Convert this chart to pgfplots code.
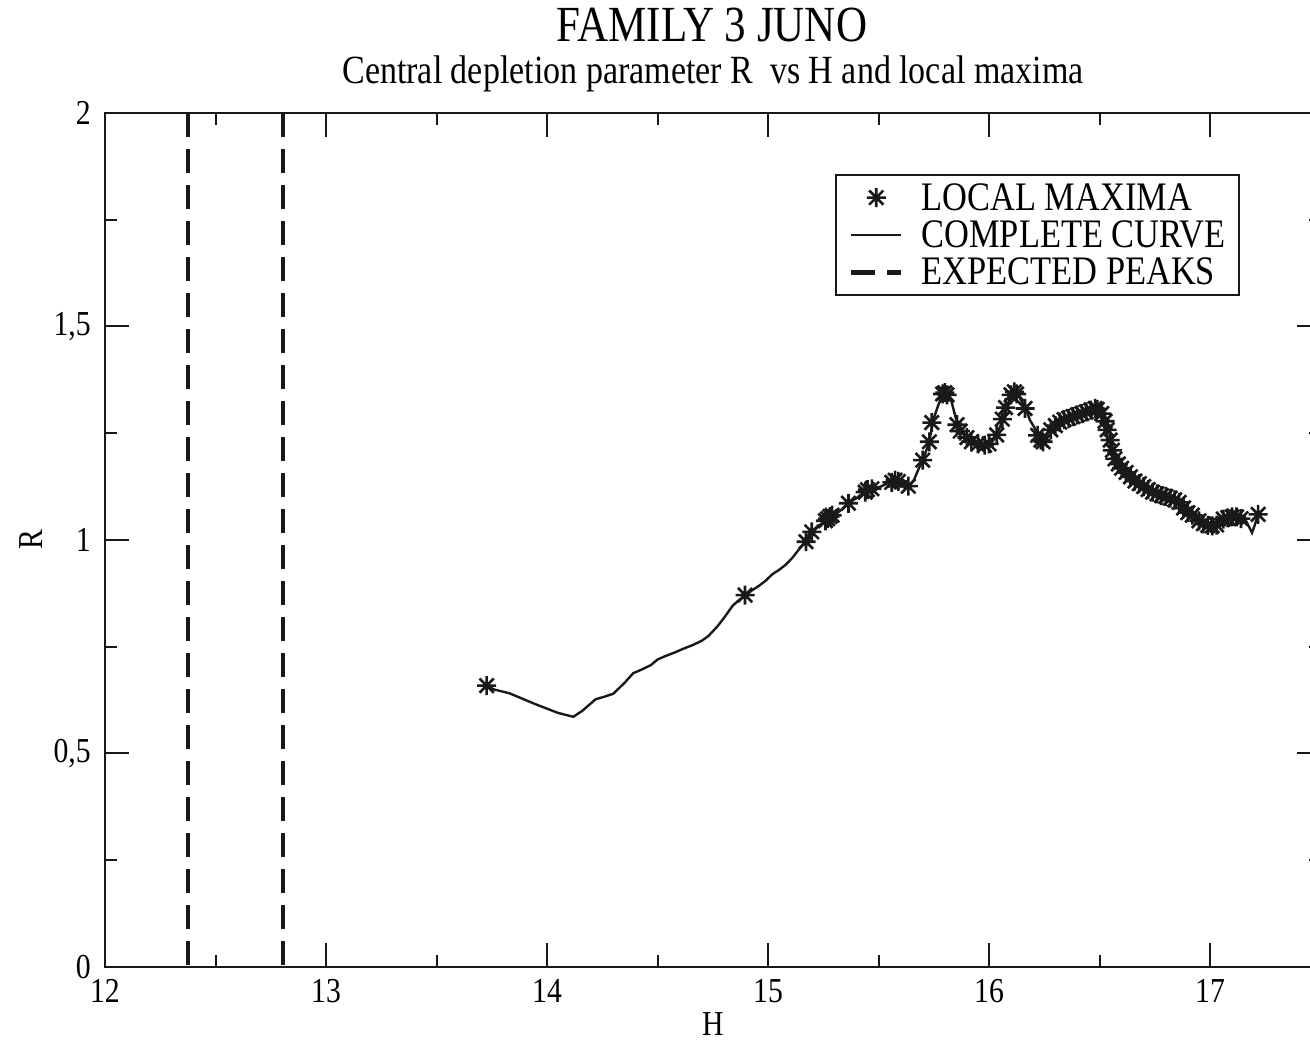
\documentclass[border=0pt]{standalone}
\usepackage{fontspec}
\setmainfont[FakeStretch=0.85]{Liberation Serif}
\usepackage{pgfplots}
\pgfplotsset{compat=1.18}

% eight-armed star: a plus and a cross drawn together
\pgfdeclareplotmark{gstar}{%
  \pgfpathmoveto{\pgfqpoint{-\pgfplotmarksize}{0pt}}%
  \pgfpathlineto{\pgfqpoint{\pgfplotmarksize}{0pt}}%
  \pgfpathmoveto{\pgfqpoint{0pt}{-\pgfplotmarksize}}%
  \pgfpathlineto{\pgfqpoint{0pt}{\pgfplotmarksize}}%
  \pgfpathmoveto{\pgfqpoint{-0.75\pgfplotmarksize}{-0.75\pgfplotmarksize}}%
  \pgfpathlineto{\pgfqpoint{0.75\pgfplotmarksize}{0.75\pgfplotmarksize}}%
  \pgfpathmoveto{\pgfqpoint{-0.75\pgfplotmarksize}{0.75\pgfplotmarksize}}%
  \pgfpathlineto{\pgfqpoint{0.75\pgfplotmarksize}{-0.75\pgfplotmarksize}}%
  \pgfusepathqstroke}

\pgfplotsset{
  starlegend/.style={legend image code/.code={\draw[##1] plot coordinates {(25pt,0pt)};}},
  linelegend/.style={legend image code/.code={\draw[##1] (0pt,0pt) -- (50pt,0pt);}},
}

% R(H) curve of the family
\pgfplotstableread{
H R
13.727 0.659
13.76 0.650
13.83 0.641
13.95 0.615
14.05 0.595
14.119 0.586
14.16 0.600
14.22 0.627
14.26 0.633
14.30 0.640
14.35 0.665
14.39 0.688
14.43 0.697
14.47 0.707
14.50 0.720
14.53 0.727
14.58 0.737
14.62 0.746
14.66 0.754
14.70 0.764
14.73 0.775
14.77 0.797
14.80 0.817
14.84 0.846
14.87 0.860
14.90 0.871
14.93 0.883
14.96 0.893
14.99 0.905
15.02 0.920
15.05 0.930
15.08 0.942
15.11 0.958
15.14 0.978
15.17 0.996
15.20 1.018
15.23 1.033
15.27 1.051
15.30 1.058
15.33 1.070
15.36 1.085
15.40 1.098
15.43 1.110
15.45 1.117
15.48 1.122
15.51 1.125
15.55 1.135
15.58 1.140
15.61 1.132
15.635 1.126
15.66 1.140
15.68 1.165
15.70 1.187
15.72 1.215
15.73 1.230
15.74 1.260
15.75 1.285
15.77 1.315
15.79 1.340
15.81 1.345
15.83 1.325
15.85 1.285
15.87 1.260
15.90 1.243
15.93 1.230
15.96 1.222
15.99 1.220
16.02 1.234
16.05 1.265
16.065 1.285
16.08 1.312
16.10 1.338
16.118 1.347
16.14 1.332
16.163 1.312
16.185 1.281
16.216 1.254
16.238 1.234
16.25 1.238
16.276 1.262
16.321 1.277
16.381 1.289
16.427 1.297
16.472 1.308
16.502 1.300
16.517 1.290
16.532 1.273
16.548 1.250
16.555 1.218
16.562 1.190
16.58 1.178
16.608 1.164
16.64 1.150
16.668 1.137
16.70 1.127
16.743 1.117
16.78 1.108
16.819 1.101
16.85 1.094
16.879 1.086
16.90 1.072
16.925 1.059
16.95 1.048
16.97 1.039
17.015 1.035
17.04 1.045
17.06 1.051
17.09 1.054
17.12 1.055
17.165 1.043
17.19 1.017
17.20 1.031
17.218 1.060
}\curve

% local maxima of R
\pgfplotstableread{
H R
13.727 0.659
14.896 0.871
15.172 0.996
15.198 1.019
15.26 1.045
15.27 1.050
15.28 1.055
15.29 1.058
15.364 1.086
15.44 1.112
15.45 1.118
15.47 1.120
15.56 1.135
15.575 1.140
15.59 1.137
15.635 1.126
15.70 1.187
15.73 1.230
15.741 1.275
15.79 1.342
15.80 1.345
15.81 1.340
15.855 1.270
15.87 1.255
15.90 1.240
15.92 1.230
15.95 1.225
15.98 1.222
16.00 1.225
16.035 1.246
16.06 1.283
16.075 1.310
16.10 1.340
16.115 1.347
16.125 1.342
16.163 1.308
16.22 1.245
16.235 1.234
16.245 1.230
16.28 1.258
16.30 1.268
16.32 1.276
16.34 1.282
16.36 1.285
16.38 1.289
16.40 1.293
16.42 1.296
16.44 1.300
16.46 1.304
16.48 1.308
16.49 1.306
16.51 1.296
16.525 1.278
16.535 1.258
16.548 1.234
16.558 1.210
16.57 1.190
16.585 1.178
16.60 1.168
16.62 1.158
16.64 1.148
16.66 1.138
16.68 1.132
16.70 1.125
16.72 1.118
16.74 1.112
16.76 1.108
16.78 1.104
16.80 1.102
16.82 1.098
16.84 1.094
16.86 1.088
16.88 1.075
16.90 1.064
16.92 1.058
16.95 1.045
16.97 1.038
16.99 1.034
17.01 1.033
17.03 1.035
17.06 1.049
17.08 1.052
17.10 1.054
17.12 1.054
17.14 1.050
17.218 1.060
}\maxima

\begin{document}
\begin{tikzpicture}
\begin{axis}[
  scale only axis, width=1215.5pt, height=854pt,
  xmin=12, xmax=17.5, ymin=0, ymax=2,
  xtick={12,13,14,15,16,17}, xticklabels={12,13,14,15,16,17},
  ytick={0,0.5,1,1.5,2}, yticklabels={0,{0,5},1,{1,5},2},
  minor xtick={12.5,13.5,14.5,15.5,16.5,17.5},
  minor ytick={0.25,0.75,1.25,1.75},
  tick align=inside, major tick length=24pt, minor tick length=12pt,
  axis line style={line width=2pt, black!90},
  every tick/.style={line width=2pt, black!90},
  tick label style={font=\fontsize{35}{40}\selectfont, inner sep=0pt},
  xticklabel style={yshift=-12pt},
  yticklabel style={xshift=-14pt},
  xlabel={H}, ylabel={R},
  label style={font=\fontsize{35}{40}\selectfont},
  xlabel style={at={(rel axis cs:0.5,0)}, anchor=base, yshift=-69pt},
  ylabel style={at={(rel axis cs:0,0.5)}, anchor=center, yshift=74pt},
  legend cell align=left,
  legend style={at={(rel axis cs:0.6006,0.9286)}, anchor=north west,
    draw=black!90, line width=2pt, font=\fontsize{40.5}{36}\selectfont,
    inner xsep=13pt, inner ysep=8.5pt, row sep=9pt,
    nodes={inner xsep=0pt, inner ysep=0pt},
    /tikz/every odd column/.append style={column sep=18pt}},
]
\addplot[only marks, mark=gstar, mark size=9.5pt, black!90,
  mark options={line width=2.6pt}, starlegend]
  table[x=H, y=R] {\maxima};
\addlegendentry{LOCAL MAXIMA}
\addplot[black!90, line width=2.4pt, no marks, linelegend]
  table[x=H, y=R] {\curve};
\addlegendentry{COMPLETE CURVE}
\addplot[black!90, line width=4.5pt, dash pattern=on 24pt off 12pt, linelegend]
  coordinates {(12.376,2) (12.376,0)};
\addlegendentry{EXPECTED PEAKS}
\addplot[black!90, line width=4.5pt, dash pattern=on 24pt off 12pt, forget plot]
  coordinates {(12.805,2) (12.805,0)};
\end{axis}
\node[anchor=base, font=\fontsize{50.6}{54}\selectfont] at (607pt,925pt) {FAMILY 3 JUNO};
\node[anchor=base, font=\fontsize{40}{44}\selectfont] at (608pt,883pt)
  {Central depletion parameter R\ \ vs H and local maxima};
\pgfresetboundingbox
\path (-105pt,-76pt) rectangle (1205pt,967pt);
\end{tikzpicture}
\end{document}
